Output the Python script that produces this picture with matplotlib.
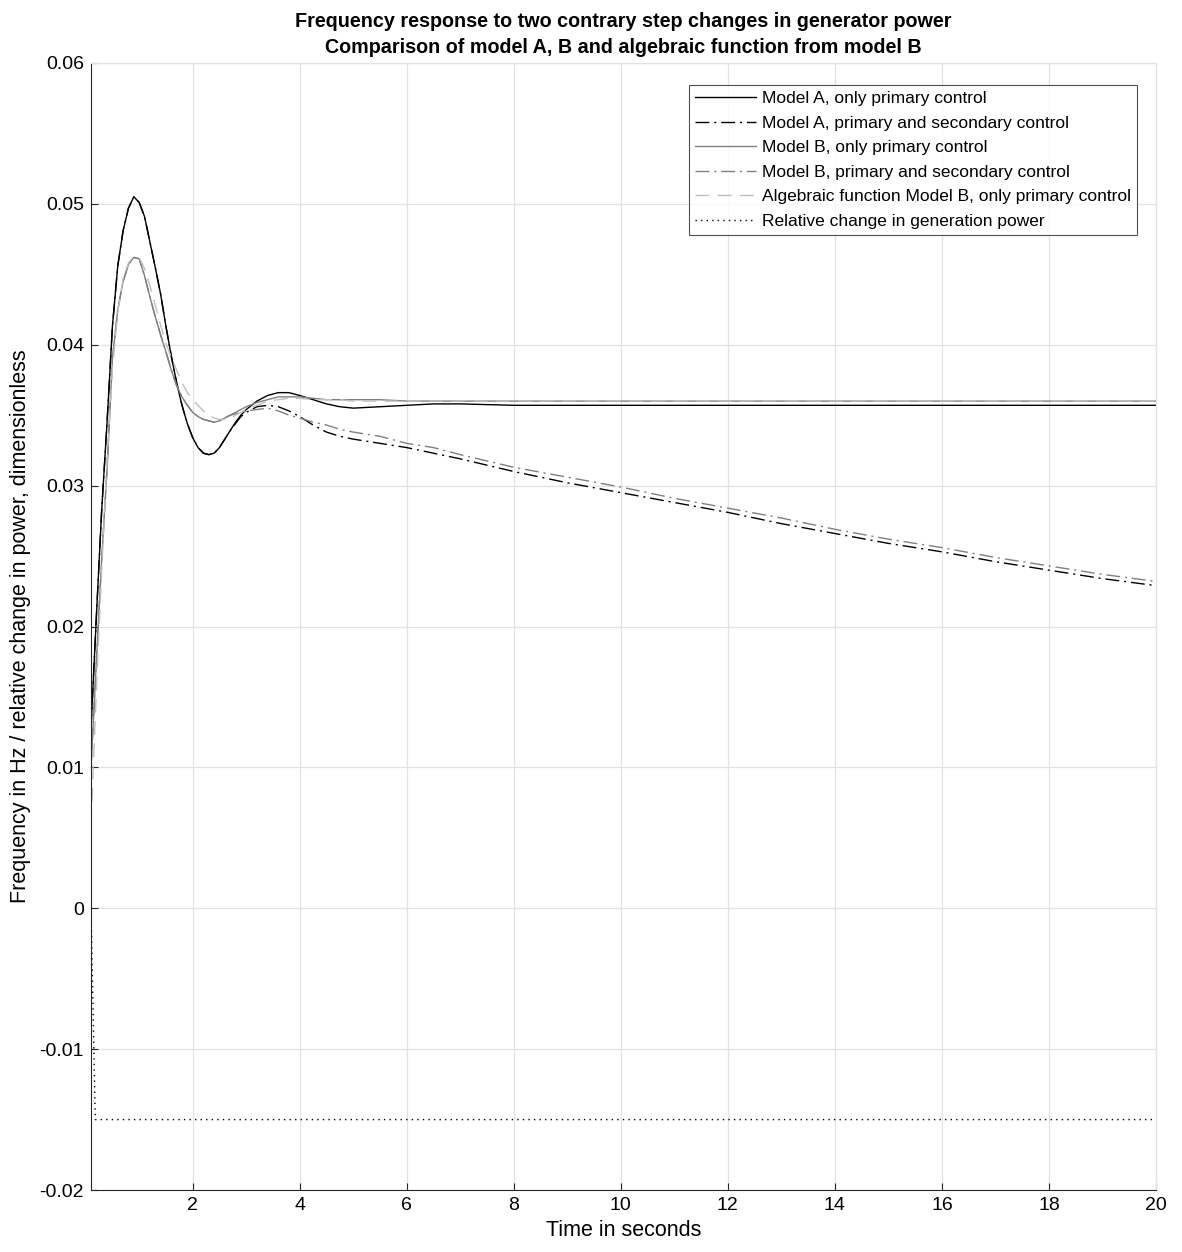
import numpy as np
import matplotlib
matplotlib.use("Agg")
import matplotlib.pyplot as plt
from matplotlib.ticker import FuncFormatter

plt.rcParams['font.family'] = ['Liberation Sans', 'DejaVu Sans']

# time axis (s)
t = [0.1, 0.2, 0.3, 0.4, 0.5, 0.6, 0.7, 0.8, 0.9, 1.0,
     1.1, 1.2, 1.3, 1.4, 1.5, 1.6, 1.7, 1.8, 1.9, 2.0,
     2.1, 2.2, 2.3, 2.4, 2.5, 2.6, 2.7, 2.8, 2.9, 3.0,
     3.2, 3.4, 3.6, 3.8, 4.0, 4.25, 4.5, 4.75, 5.0, 5.5,
     6.0, 6.5, 7.0, 8.0, 9.0, 10, 11, 12, 13, 14,
     15, 16, 17, 18, 19, 20]

# model A, primary control only
a_prim = [0.0128, 0.0207, 0.0283, 0.0345, 0.0413, 0.0456, 0.0481, 0.0497, 0.0505, 0.0501,
          0.0491, 0.0473, 0.0455, 0.0436, 0.0413, 0.0392, 0.0373, 0.0357, 0.0344, 0.0334,
          0.0327, 0.0323, 0.0322, 0.0323, 0.0327, 0.0333, 0.0339, 0.0345, 0.0350, 0.0354,
          0.0360, 0.0364, 0.0366, 0.0366, 0.0364, 0.0361, 0.0358, 0.0356, 0.0355, 0.0356,
          0.0357, 0.0358, 0.0358, 0.0357, 0.0357, 0.0357, 0.0357, 0.0357, 0.0357, 0.0357,
          0.0357, 0.0357, 0.0357, 0.0357, 0.0357, 0.0357]

# model A, primary + secondary control
a_sec = [0.0128, 0.0207, 0.0283, 0.0345, 0.0413, 0.0456, 0.0481, 0.0497, 0.0505, 0.0501,
         0.0491, 0.0473, 0.0455, 0.0436, 0.0413, 0.0392, 0.0373, 0.0357, 0.0344, 0.0334,
         0.0327, 0.0323, 0.0322, 0.0323, 0.0327, 0.0333, 0.0339, 0.0344, 0.0349, 0.0352,
         0.0356, 0.0357, 0.0356, 0.0353, 0.0349, 0.0343, 0.0338, 0.0335, 0.0333, 0.0330,
         0.0327, 0.0323, 0.0319, 0.0310, 0.0302, 0.0295, 0.0288, 0.0281, 0.0273, 0.0266,
         0.0259, 0.0253, 0.0246, 0.0240, 0.0234, 0.0229]

# model B, primary control only
b_prim = [0.0100, 0.0175, 0.0248, 0.0312, 0.0390, 0.0425, 0.0445, 0.0457, 0.0462, 0.0461,
          0.0449, 0.0434, 0.0420, 0.0407, 0.0395, 0.0382, 0.0371, 0.0363, 0.0357, 0.0352,
          0.0349, 0.0347, 0.0346, 0.0345, 0.0346, 0.0348, 0.0350, 0.0352, 0.0354, 0.0356,
          0.0359, 0.0361, 0.0363, 0.0363, 0.0363, 0.0362, 0.0361, 0.0361, 0.0361, 0.0361,
          0.0360, 0.0360, 0.0360, 0.0360, 0.0360, 0.0360, 0.0360, 0.0360, 0.0360, 0.0360,
          0.0360, 0.0360, 0.0360, 0.0360, 0.0360, 0.0360]

# model B, primary + secondary control
b_sec = [0.0100, 0.0175, 0.0248, 0.0312, 0.0390, 0.0425, 0.0445, 0.0457, 0.0462, 0.0461,
         0.0449, 0.0434, 0.0420, 0.0407, 0.0395, 0.0382, 0.0371, 0.0363, 0.0357, 0.0352,
         0.0349, 0.0347, 0.0346, 0.0345, 0.0346, 0.0348, 0.0350, 0.0351, 0.0352, 0.0353,
         0.0354, 0.0355, 0.0353, 0.0350, 0.0348, 0.0345, 0.0343, 0.0340, 0.0338, 0.0335,
         0.0330, 0.0327, 0.0322, 0.0313, 0.0306, 0.0299, 0.0291, 0.0284, 0.0277, 0.0269,
         0.0262, 0.0256, 0.0249, 0.0243, 0.0237, 0.0232]

# algebraic function of model B, primary control only
b_alg = [0.0060, 0.0155, 0.0240, 0.0318, 0.0383, 0.0423, 0.0447, 0.0458, 0.0463, 0.0462,
         0.0454, 0.0442, 0.0428, 0.0414, 0.0401, 0.0391, 0.0382, 0.0373, 0.0366, 0.0361,
         0.0357, 0.0353, 0.0350, 0.0348, 0.0347, 0.0347, 0.0348, 0.0350, 0.0352, 0.0354,
         0.0357, 0.0360, 0.0361, 0.0362, 0.0362, 0.0361, 0.0361, 0.0361, 0.0360, 0.0360,
         0.0360, 0.0360, 0.0360, 0.0360, 0.0360, 0.0360, 0.0360, 0.0360, 0.0360, 0.0360,
         0.0360, 0.0360, 0.0360, 0.0360, 0.0360, 0.0360]

# relative change in generation power
t_pow = [0.1, 0.18, 20]
p_rel = [0.0, -0.015, -0.015]

labels = ['Model A, only primary control',
          'Model A, primary and secondary control',
          'Model B, only primary control',
          'Model B, primary and secondary control',
          'Algebraic function Model B, only primary control',
          'Relative change in generation power']

fig = plt.figure(figsize=(11.82, 12.52), dpi=100)
ax = fig.add_axes([0.077, 0.0495, 0.901, 0.9002])

dashdot = (0, (10, 3.5, 1.5, 3.5))
ax.plot(t, a_prim, color='black', lw=1.0, label=labels[0])
ax.plot(t, a_sec, color='black', lw=1.0, linestyle=dashdot, label=labels[1])
ax.plot(t, b_prim, color='0.5', lw=1.0, label=labels[2])
ax.plot(t, b_sec, color='0.5', lw=1.0, linestyle=dashdot, label=labels[3])
ax.plot(t, b_alg, color='0.75', lw=1.0, linestyle=(0, (10, 6)), label=labels[4])
ax.plot(t_pow, p_rel, color='black', lw=1.0, linestyle=(0, (1, 3)), label=labels[5])

ax.set_xlim(0.1, 20)
ax.set_ylim(-0.02, 0.06)
ax.set_xticks(np.arange(2, 21, 2))
ax.set_yticks(np.arange(-0.02, 0.061, 0.01))
ax.yaxis.set_major_formatter(FuncFormatter(lambda v, p: '%g' % round(v, 4)))
ax.xaxis.set_major_formatter(FuncFormatter(lambda v, p: '%g' % v))
ax.tick_params(direction='in', length=5, width=0.8, colors='0.15', labelsize=14,
               labelcolor='black', pad=5)
ax.grid(True, color='0.89', lw=0.9)
ax.set_axisbelow(True)
for s in ['left', 'bottom']:
    ax.spines[s].set_color('0.15')
    ax.spines[s].set_linewidth(0.8)
for s in ['top', 'right']:
    ax.spines[s].set_color('0.89')
    ax.spines[s].set_linewidth(0.9)

ax.set_xlabel('Time in seconds', fontsize=15.5, labelpad=4)
ax.set_ylabel('Frequency in Hz / relative change in power, dimensionless', fontsize=15.5, labelpad=6)
ax.set_title('Frequency response to two contrary step changes in generator power\n'
             'Comparison of model A, B and algebraic function from model B',
             fontsize=14.2, fontweight='bold', linespacing=1.5, pad=7)

leg = ax.legend(loc='upper right', bbox_to_anchor=(0.982, 0.9805), borderaxespad=0,
                fontsize=12.5, frameon=True, fancybox=False, edgecolor='0.15',
                handlelength=3.5, handletextpad=0.35, labelspacing=0.54, borderpad=0.35)
leg.get_frame().set_linewidth(0.8)

fig.savefig('out.png', dpi=100)
